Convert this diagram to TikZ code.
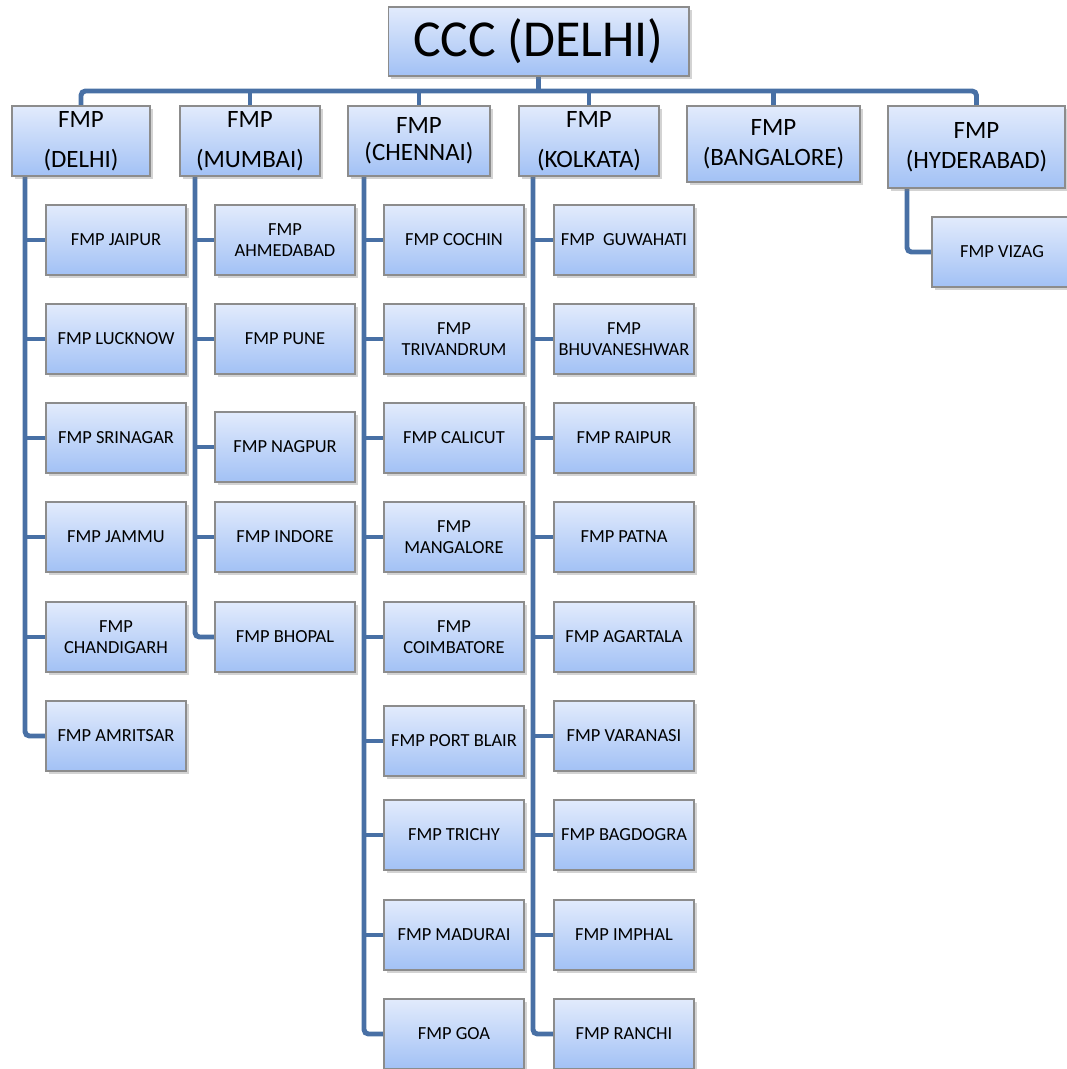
\documentclass[tikz,border=0pt]{standalone}
\usepackage{fontspec}
\setmainfont{Carlito}
\usetikzlibrary{shadows,backgrounds}
\definecolor{conncol}{RGB}{72,112,165}
\definecolor{boxtop}{RGB}{226,235,252}
\definecolor{boxbot}{RGB}{162,193,245}
\definecolor{boxedge}{RGB}{140,140,140}
\tikzset{
  orgbox/.style={draw=boxedge, line width=0.6pt, top color=boxtop, bottom color=boxbot,
    drop shadow={shadow xshift=1.6pt, shadow yshift=-1.6pt, opacity=0.35},
    align=center, inner sep=0pt, text=black},
  childbox/.style={orgbox, minimum width=2.8cm, minimum height=1.4cm,
    font=\fontsize{10.5}{11.6}\selectfont},
  lvlbox/.style={orgbox, minimum height=1.4cm},
  conn/.style={draw=conncol, line width=2.8pt, rounded corners=2.5pt}
}
\begin{document}
\begin{tikzpicture}[x=0.02cm,y=-0.02cm]
\useasboundingbox (0,0) rectangle (1066,1069);
% root
\node[orgbox, minimum width=6.02cm, minimum height=1.38cm, font=\fontsize{29.5}{32}\selectfont] (ccc) at (538.5,41.5) {CCC (DELHI)};
% level 1
\node[lvlbox, minimum width=2.76cm, font=\fontsize{14.2}{22.7}\selectfont] (fdelhi) at (81,141) {FMP\\(DELHI)};
\node[lvlbox, minimum width=2.8cm, font=\fontsize{14.2}{22.7}\selectfont] (fmumbai) at (250,141) {FMP\\(MUMBAI)};
\node[lvlbox, minimum width=2.84cm, font=\fontsize{14.2}{15.5}\selectfont] (fchennai) at (419,141) {FMP\\(CHENNAI)};
\node[lvlbox, minimum width=2.8cm, font=\fontsize{14.2}{22.7}\selectfont] (fkolkata) at (589,141) {FMP\\(KOLKATA)};
\node[lvlbox, minimum width=3.46cm, minimum height=1.52cm, font=\fontsize{14.2}{17}\selectfont] (fbangalore) at (773.5,144) {FMP\\(BANGALORE)};
\node[lvlbox, minimum width=3.54cm, minimum height=1.64cm, font=\fontsize{14.2}{17}\selectfont] (fhyderabad) at (976.5,147) {FMP\\(HYDERABAD)};
% column coordinates
\coordinate (colD) at (25,0);
\coordinate (colM) at (195,0);
\coordinate (colC) at (364,0);
\coordinate (colK) at (533,0);
\coordinate (colH) at (907,0);
\coordinate (bus) at (0,91);
% Delhi children
\node[childbox] (jaipur) at (116,240) {FMP JAIPUR};
\node[childbox] (lucknow) at (116,339) {FMP LUCKNOW};
\node[childbox] (srinagar) at (116,438) {FMP SRINAGAR};
\node[childbox] (jammu) at (116,537) {FMP JAMMU};
\node[childbox] (chandigarh) at (116,637) {FMP\\CHANDIGARH};
\node[childbox] (amritsar) at (116,736) {FMP AMRITSAR};
% Mumbai children
\node[childbox] (ahmedabad) at (285,240) {FMP\\AHMEDABAD};
\node[childbox] (pune) at (285,339) {FMP PUNE};
\node[childbox] (nagpur) at (285,447) {FMP NAGPUR};
\node[childbox] (indore) at (285,537) {FMP INDORE};
\node[childbox] (bhopal) at (285,637) {FMP BHOPAL};
% Chennai children
\node[childbox] (cochin) at (454,240) {FMP COCHIN};
\node[childbox] (trivandrum) at (454,339) {FMP\\TRIVANDRUM};
\node[childbox] (calicut) at (454,438) {FMP CALICUT};
\node[childbox] (mangalore) at (454,537) {FMP\\MANGALORE};
\node[childbox] (coimbatore) at (454,637) {FMP\\COIMBATORE};
\node[childbox] (portblair) at (454,741) {FMP PORT BLAIR};
\node[childbox] (trichy) at (454,835) {FMP TRICHY};
\node[childbox] (madurai) at (454,935) {FMP MADURAI};
\node[childbox] (goa) at (454,1034) {FMP GOA};
% Kolkata children
\node[childbox] (guwahati) at (624,240) {FMP\ \ GUWAHATI};
\node[childbox] (bhuvaneshwar) at (624,339) {FMP\\BHUVANESHWAR};
\node[childbox] (raipur) at (624,438) {FMP RAIPUR};
\node[childbox] (patna) at (624,537) {FMP PATNA};
\node[childbox] (agartala) at (624,637) {FMP AGARTALA};
\node[childbox] (varanasi) at (624,736) {FMP VARANASI};
\node[childbox] (bagdogra) at (624,835) {FMP BAGDOGRA};
\node[childbox] (imphal) at (624,935) {FMP IMPHAL};
\node[childbox] (ranchi) at (624,1034) {FMP RANCHI};
% Hyderabad child
\node[childbox] (vizag) at (1002,252) {FMP VIZAG};
% connectors
\begin{scope}[on background layer]
\draw[conn] (ccc.south) -- (ccc.south |- bus);
\draw[conn] (fdelhi.north) |- (bus -| fhyderabad.north) -- (fhyderabad.north);
\draw[conn] (fmumbai.north) -- (fmumbai.north |- bus);
\draw[conn] (fchennai.north) -- (fchennai.north |- bus);
\draw[conn] (fkolkata.north) -- (fkolkata.north |- bus);
\draw[conn] (fbangalore.north) -- (fbangalore.north |- bus);
% Delhi column
\draw[conn] (fdelhi.south -| colD) |- (amritsar.west);
\foreach \c in {jaipur,lucknow,srinagar,jammu,chandigarh}
  \draw[conn] (colD |- \c.west) -- (\c.west);
% Mumbai column
\draw[conn] (fmumbai.south -| colM) |- (bhopal.west);
\foreach \c in {ahmedabad,pune,nagpur,indore}
  \draw[conn] (colM |- \c.west) -- (\c.west);
% Chennai column
\draw[conn] (fchennai.south -| colC) |- (goa.west);
\foreach \c in {cochin,trivandrum,calicut,mangalore,coimbatore,portblair,trichy,madurai}
  \draw[conn] (colC |- \c.west) -- (\c.west);
% Kolkata column
\draw[conn] (fkolkata.south -| colK) |- (ranchi.west);
\foreach \c in {guwahati,bhuvaneshwar,raipur,patna,agartala,varanasi,bagdogra,imphal}
  \draw[conn] (colK |- \c.west) -- (\c.west);
% Hyderabad column
\draw[conn] (fhyderabad.south -| colH) |- (vizag.west);
\end{scope}
\end{tikzpicture}
\end{document}
